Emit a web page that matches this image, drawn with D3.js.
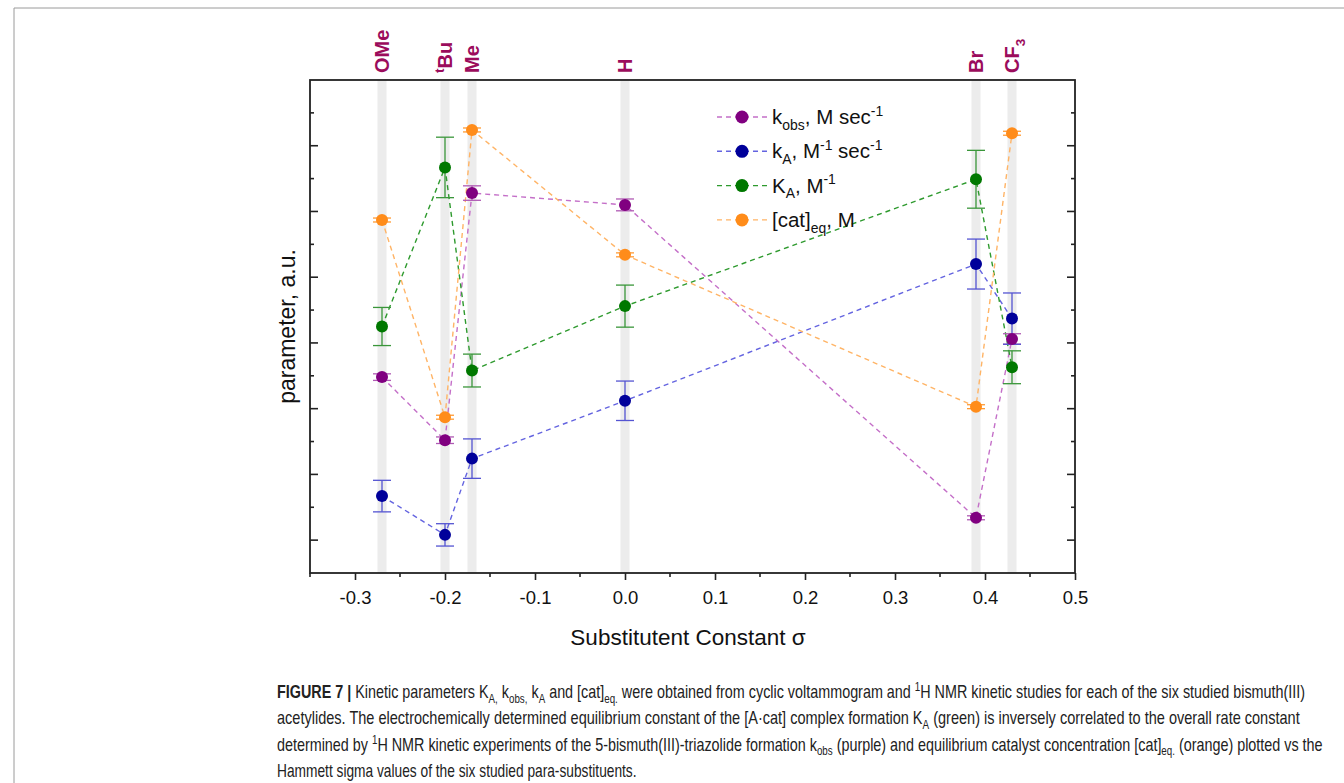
<!DOCTYPE html>
<html>
<head>
<meta charset="utf-8">
<script src="https://cdn.jsdelivr.net/npm/d3@7"></script>
<style>
  body { margin: 0; background: #fff; }
  svg { display: block; }
</style>
</head>
<body>
<div id="chart"></div>
<script>
// substituents and their Hammett sigma values
const substituents = [
  [{t: 'OMe'}],
  [{t: 't', sup: true}, {t: 'Bu'}],
  [{t: 'Me'}],
  [{t: 'H'}],
  [{t: 'Br'}],
  [{t: 'CF'}, {t: '3', sub: true}]
];
const sigma = [-0.27, -0.20, -0.17, 0.00, 0.39, 0.43];

// parameter values (a.u.) and error bars
const kobs     = [3.48, 2.52, 6.28, 6.10, 1.34, 4.06];
const kobsErr  = [0.05, 0.05, 0.11, 0.09, 0.03, 0.08];
const kA       = [1.67, 1.08, 2.24, 3.12, 5.20, 4.37];
const kAErr    = [0.24, 0.17, 0.30, 0.30, 0.38, 0.39];
const KA       = [4.25, 6.67, 3.58, 4.56, 6.49, 3.63];
const KAErr    = [0.29, 0.46, 0.25, 0.32, 0.44, 0.25];
const cateq    = [5.87, 2.87, 7.24, 5.34, 3.03, 7.19];
const cateqErr = [0.03, 0.03, 0.03, 0.03, 0.03, 0.03];

const xTicks = [-0.3, -0.2, -0.1, 0.0, 0.1, 0.2, 0.3, 0.4, 0.5];

const series = [
  {name: [{t: 'k'}, {t: 'obs', sub: true}, {t: ', M sec'}, {t: '-1', sup: true}],
   values: kobs, errors: kobsErr, dot: '#800080', line: '#c46fc8', err: '#b05ab4'},
  {name: [{t: 'k'}, {t: 'A', sub: true}, {t: ', M'}, {t: '-1', sup: true}, {t: ' sec'}, {t: '-1', sup: true}],
   values: kA, errors: kAErr, dot: '#00009a', line: '#6464e0', err: '#5454d2'},
  {name: [{t: 'K'}, {t: 'A', sub: true}, {t: ', M'}, {t: '-1', sup: true}],
   values: KA, errors: KAErr, dot: '#007800', line: '#2e9a2e', err: '#3a963a'},
  {name: [{t: '[cat]'}, {t: 'eq', sub: true}, {t: ', M'}],
   values: cateq, errors: cateqErr, dot: '#ff8c1a', line: '#ffb466', err: '#ff9a33'}
];

const caption = [
  [{t: 'FIGURE 7 | ', b: true}, {t: 'Kinetic parameters K'}, {t: 'A,', sub: true}, {t: ' k'}, {t: 'obs,', sub: true},
   {t: ' k'}, {t: 'A', sub: true}, {t: ' and [cat]'}, {t: 'eq.', sub: true},
   {t: ' were obtained from cyclic voltammogram and '}, {t: '1', sup: true},
   {t: 'H NMR kinetic studies for each of the six studied bismuth(III)'}],
  [{t: 'acetylides. The electrochemically determined equilibrium constant of the [A\u00b7cat] complex formation K'},
   {t: 'A', sub: true}, {t: ' (green) is inversely correlated to the overall rate constant'}],
  [{t: 'determined by '}, {t: '1', sup: true}, {t: 'H NMR kinetic experiments of the 5-bismuth(III)-triazolide formation k'},
   {t: 'obs', sub: true}, {t: ' (purple) and equilibrium catalyst concentration [cat]'}, {t: 'eq.', sub: true},
   {t: ' (orange) plotted vs the'}],
  [{t: 'Hammett sigma values of the six studied para-substituents.'}]
];
const captionWidths = [1029, 1023, 1046, 360];

const width = 1344, height = 783;
const font = 'Arial, "Liberation Sans", sans-serif';

const svg = d3.select('#chart').append('svg')
  .attr('width', width)
  .attr('height', height)
  .style('font-family', font);

// rich text helper: sub / superscripts via dy
function rich(text, parts, size) {
  let cur = 0;
  parts.forEach(p => {
    const off = p.sub ? size * 0.28 : p.sup ? -size * 0.4 : 0;
    text.append('tspan')
      .attr('dy', off - cur)
      .attr('font-size', (p.sub || p.sup) ? size * 0.68 : size)
      .attr('font-weight', p.b ? 'bold' : null)
      .text(p.t);
    cur = off;
  });
}

// figure frame
svg.append('path')
  .attr('d', 'M14,783 V8 H1344')
  .attr('fill', 'none')
  .attr('stroke', '#9a9a9a')
  .attr('stroke-width', 1);

const x = d3.scaleLinear().domain([-0.35, 0.5]).range([310, 1075]);
const y = d3.scaleLinear().domain([0.5, 8]).range([573, 80]);

// grey substituent bands
svg.selectAll('.band')
  .data(sigma)
  .enter().append('rect')
  .attr('x', d => x(d) - 4.5)
  .attr('y', y(8))
  .attr('width', 9)
  .attr('height', y(0.5) - y(8))
  .attr('fill', '#ececec');

// substituent labels
sigma.forEach((s, i) => {
  const t = svg.append('text')
    .attr('transform', `translate(${x(s) + 7},73) rotate(-90)`)
    .attr('fill', '#9b0c5c')
    .attr('font-weight', 'bold');
  rich(t, substituents[i], 20);
});

// axes
const yMajor = d3.range(1, 8);
const yMinor = d3.range(1.5, 8, 1);
const xMinor = d3.range(-0.35, 0.5, 0.1);

const axisG = svg.append('g').attr('stroke', '#222').attr('stroke-width', 1.6);
[[x.range()[0], 1], [x.range()[1], -1]].forEach(([x0, dir]) => {
  axisG.selectAll(null).data(yMajor).enter().append('line')
    .attr('x1', x0).attr('x2', x0 + dir * 8)
    .attr('y1', d => y(d)).attr('y2', d => y(d));
  axisG.selectAll(null).data(yMinor).enter().append('line')
    .attr('x1', x0).attr('x2', x0 + dir * 4)
    .attr('y1', d => y(d)).attr('y2', d => y(d));
});

const xAxis = d3.axisBottom(x)
  .tickValues(xTicks)
  .tickSize(7)
  .tickPadding(11)
  .tickFormat(d => d3.format('.1f')(d).replace('\u2212', '-'));

const xg = svg.append('g')
  .attr('transform', `translate(0,${y(0.5)})`)
  .call(xAxis);
xg.select('.domain').remove();
xg.selectAll('.tick line').attr('stroke', '#222').attr('stroke-width', 1.6);
xg.selectAll('.tick text')
  .attr('font-family', font)
  .attr('font-size', 18.5)
  .attr('fill', '#111');
xg.selectAll('.minor').data(xMinor).enter().append('line')
  .attr('x1', d => x(d)).attr('x2', d => x(d))
  .attr('y1', 0).attr('y2', 4)
  .attr('stroke', '#222').attr('stroke-width', 1.6);

svg.append('rect')
  .attr('x', x.range()[0])
  .attr('y', y(8))
  .attr('width', x.range()[1] - x.range()[0])
  .attr('height', y(0.5) - y(8))
  .attr('fill', 'none')
  .attr('stroke', '#222')
  .attr('stroke-width', 1.8);

// axis titles
svg.append('text')
  .attr('transform', `translate(295,${(y(0.5) + y(8)) / 2}) rotate(-90)`)
  .attr('text-anchor', 'middle')
  .attr('font-size', 23)
  .attr('fill', '#111')
  .text('parameter, a.u.');

svg.append('text')
  .attr('x', 688)
  .attr('y', 645)
  .attr('text-anchor', 'middle')
  .attr('font-size', 22.5)
  .attr('fill', '#111')
  .text('Substitutent Constant \u03c3');

// series lines
const line = d3.line()
  .x(d => x(d[0]))
  .y(d => y(d[1]));

series.forEach(s => {
  svg.append('path')
    .datum(sigma.map((d, i) => [d, s.values[i]]))
    .attr('d', line)
    .attr('fill', 'none')
    .attr('stroke', s.line)
    .attr('stroke-width', 1.4)
    .attr('stroke-dasharray', '5,4');
});

// error bars
series.forEach(s => {
  const g = svg.append('g').attr('stroke', s.err).attr('stroke-width', 1.3);
  sigma.forEach((d, i) => {
    const lo = y(s.values[i] - s.errors[i]), hi = y(s.values[i] + s.errors[i]);
    g.append('line').attr('x1', x(d)).attr('x2', x(d)).attr('y1', lo).attr('y2', hi);
    [lo, hi].forEach(v => g.append('line')
      .attr('x1', x(d) - 9).attr('x2', x(d) + 9)
      .attr('y1', v).attr('y2', v));
  });
});

// markers
series.forEach(s => {
  svg.selectAll(null)
    .data(sigma.map((d, i) => [d, s.values[i]]))
    .enter().append('circle')
    .attr('cx', d => x(d[0]))
    .attr('cy', d => y(d[1]))
    .attr('r', 6)
    .attr('fill', s.dot);
});

// legend
const legend = svg.append('g').attr('transform', 'translate(717,117)');
series.forEach((s, i) => {
  const row = legend.append('g').attr('transform', `translate(0,${i * 34.3})`);
  row.append('line')
    .attr('x1', 0).attr('x2', 50)
    .attr('stroke', s.line)
    .attr('stroke-width', 1.4)
    .attr('stroke-dasharray', '5,4');
  row.append('circle').attr('cx', 25).attr('r', 6.5).attr('fill', s.dot);
  const t = row.append('text')
    .attr('x', 55).attr('y', 7)
    .attr('fill', '#111');
  rich(t, s.name, 20.5);
});

// caption: condensed by a horizontal scale fitted to each line's width
caption.forEach((parts, i) => {
  const g = svg.append('g');
  const t = g.append('text')
    .attr('x', 0)
    .attr('y', 698 + i * 26.3)
    .attr('fill', '#222');
  rich(t, parts, 17.5);
  const w = t.node().getComputedTextLength();
  g.attr('transform', `translate(277,0) scale(${captionWidths[i] / w},1)`);
});
</script>
</body>
</html>
